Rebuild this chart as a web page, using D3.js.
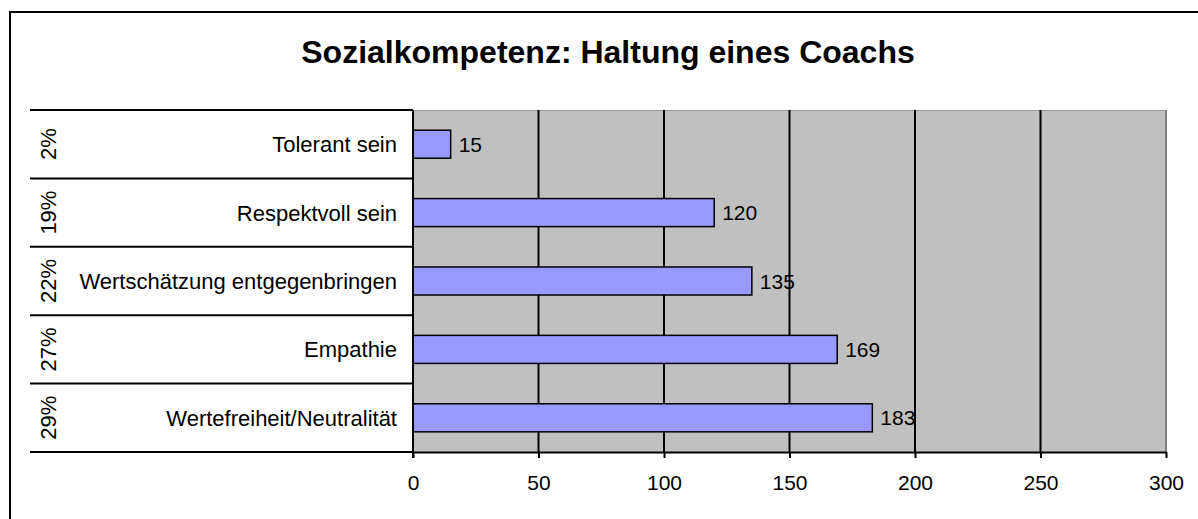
<!DOCTYPE html>
<html>
<head>
<meta charset="utf-8">
<script src="https://cdn.jsdelivr.net/npm/d3@7"></script>
<style>
  body { margin: 0; background: #fff; }
  text { font-family: Arial, "Liberation Sans", sans-serif; fill: #000; }
</style>
</head>
<body>
<div id="chart"></div>
<script>
// data (top row first)
const categories = ["Tolerant sein", "Respektvoll sein", "Wertschätzung entgegenbringen", "Empathie", "Wertefreiheit/Neutralität"];
const values = [15, 120, 135, 169, 183];
const shares = ["2%", "19%", "22%", "27%", "29%"];
const xTicks = [0, 50, 100, 150, 200, 250, 300];
const title = "Sozialkompetenz: Haltung eines Coachs";

const W = 1198, H = 519;
const plot = { left: 413, right: 1166, top: 110, bottom: 452 };

let svg = d3.select("#chart")
    .append("svg")
    .attr("width", W)
    .attr("height", H);

// outer frame (runs past the right and bottom edge)
svg.append("rect")
    .attr("x", 10).attr("y", 12)
    .attr("width", 1200).attr("height", 520)
    .attr("fill", "#fff")
    .attr("stroke", "#000")
    .attr("stroke-width", 2);

svg.append("text")
    .attr("x", 608).attr("y", 63)
    .attr("text-anchor", "middle")
    .style("font-size", "32px")
    .style("font-weight", "bold")
    .text(title);

let x = d3.scaleLinear()
    .domain([0, 300])
    .range([plot.left, plot.right]);

// one row per category, bars sit in the middle of the row
let rows = d3.scaleBand()
    .domain(categories)
    .range([plot.top, plot.bottom]);

let y = d3.scaleBand()
    .domain(categories)
    .range([plot.top, plot.bottom])
    .paddingInner(0.59)
    .paddingOuter(0.295);

// plot background
svg.append("rect")
    .attr("x", plot.left).attr("y", plot.top)
    .attr("width", plot.right - plot.left)
    .attr("height", plot.bottom - plot.top)
    .attr("fill", "#c0c0c0");
svg.append("line")
    .attr("x1", plot.left).attr("x2", plot.right)
    .attr("y1", plot.top + 0.5).attr("y2", plot.top + 0.5)
    .attr("stroke", "#9a9a9a");
svg.append("line")
    .attr("x1", plot.right).attr("x2", plot.right)
    .attr("y1", plot.top).attr("y2", plot.bottom)
    .attr("stroke", "#808080")
    .attr("stroke-width", 2);

// vertical gridlines
svg.append("g")
    .selectAll("line")
    .data(xTicks.slice(1, -1))
    .enter()
    .append("line")
    .attr("x1", d => x(d)).attr("x2", d => x(d))
    .attr("y1", plot.top).attr("y2", plot.bottom)
    .attr("stroke", "#000")
    .attr("stroke-width", 2);

// bars
svg.append("g")
    .selectAll("rect")
    .data(categories)
    .enter()
    .append("rect")
    .attr("x", x(0))
    .attr("y", d => y(d))
    .attr("width", (d, i) => x(values[i]) - x(0))
    .attr("height", y.bandwidth())
    .attr("fill", "#9999ff")
    .attr("stroke", "#000")
    .attr("stroke-width", 1.5);

// value labels
svg.append("g")
    .selectAll("text")
    .data(categories)
    .enter()
    .append("text")
    .attr("x", (d, i) => x(values[i]) + 8)
    .attr("y", d => rows(d) + rows.bandwidth() / 2)
    .attr("dy", "0.36em")
    .style("font-size", "21px")
    .text((d, i) => values[i]);

// category row separators (left of the plot)
let bounds = rows.domain().map(d => rows(d)).concat([plot.bottom]);
svg.append("g")
    .selectAll("line")
    .data(bounds)
    .enter()
    .append("line")
    .attr("x1", 30).attr("x2", plot.left)
    .attr("y1", d => d).attr("y2", d => d)
    .attr("stroke", "#000")
    .attr("stroke-width", 2);

// category names
svg.append("g")
    .selectAll("text")
    .data(categories)
    .enter()
    .append("text")
    .attr("x", 397)
    .attr("y", d => rows(d) + rows.bandwidth() / 2)
    .attr("dy", "0.36em")
    .attr("text-anchor", "end")
    .style("font-size", "22px")
    .text(d => d);

// shares, rotated
svg.append("g")
    .selectAll("text")
    .data(categories)
    .enter()
    .append("text")
    .attr("transform", (d, i) => "translate(48," + (rows(d) + rows.bandwidth() / 2) + ") rotate(-90)")
    .attr("dy", "0.36em")
    .attr("text-anchor", "middle")
    .style("font-size", "22px")
    .text((d, i) => shares[i]);

// left axis line
svg.append("line")
    .attr("x1", plot.left).attr("x2", plot.left)
    .attr("y1", plot.top).attr("y2", plot.bottom + 6)
    .attr("stroke", "#000")
    .attr("stroke-width", 2);

// x axis
let xAxis = svg.append("g")
    .attr("transform", "translate(0," + plot.bottom + ")")
    .call(d3.axisBottom(x).tickValues(xTicks).tickSize(6).tickSizeOuter(0).tickPadding(17));
xAxis.select(".domain").attr("stroke", "#000").attr("stroke-width", 2);
xAxis.selectAll(".tick line").attr("stroke", "#000").attr("stroke-width", 2);
xAxis.selectAll(".tick text")
    .style("font-size", "21px")
    .style("font-family", "Arial, 'Liberation Sans', sans-serif")
    .attr("fill", "#000");
</script>
</body>
</html>
